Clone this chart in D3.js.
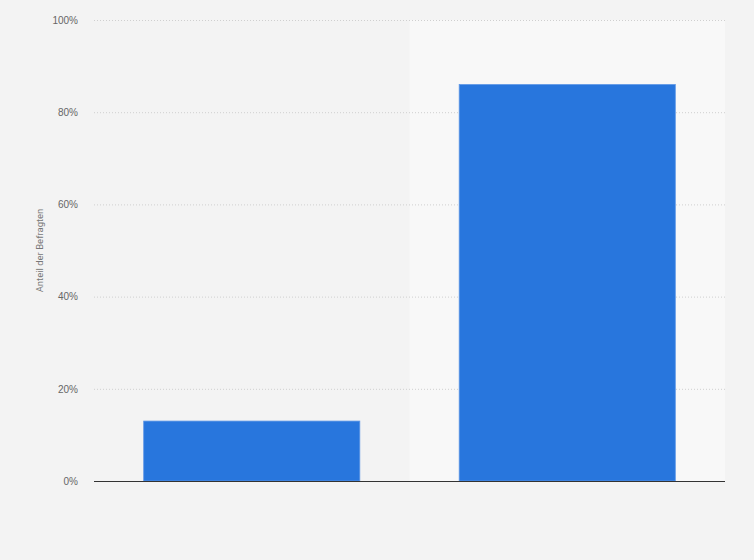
<!DOCTYPE html>
<html>
<head>
<meta charset="utf-8">
<script src="https://cdn.jsdelivr.net/npm/d3@7"></script>
<style>
  html, body { margin: 0; padding: 0; background: #f3f3f3; }
  svg { display: block; font-family: Roboto, "Noto Sans", Arial, sans-serif; }
</style>
</head>
<body>
<svg></svg>
<script>
const categories = ["Kategorie A", "Kategorie B"];
const values = [13, 86];
const yTicks = [0, 20, 40, 60, 80, 100];
const yTitle = "Anteil der Befragten";

const width = 754, height = 560, margin = { top: 20, right: 29, bottom: 79, left: 94 };

const svg = d3.select("svg")
  .attr("width", width)
  .attr("height", height);

svg.append("rect")
  .attr("width", width)
  .attr("height", height)
  .attr("fill", "#f3f3f3");

const xScale = d3.scaleBand()
  .domain(categories)
  .range([margin.left, width - margin.right])
  .paddingInner(0.315)
  .paddingOuter(0.1575);

// band layout without padding, for the alternating background
const bandScale = d3.scaleBand()
  .domain(categories)
  .range([margin.left, width - margin.right]);

const yScale = d3.scaleLinear()
  .domain([0, 100])
  .range([height - margin.bottom, margin.top]);

// lighter background on every second band
svg.selectAll(".band")
  .data(categories.filter((d, i) => i % 2 === 1))
  .enter()
  .append("rect")
  .attr("class", "band")
  .attr("x", d => bandScale(d))
  .attr("y", yScale(100))
  .attr("width", bandScale.bandwidth())
  .attr("height", yScale(0) - yScale(100))
  .attr("fill", "#f8f8f8");

// grid lines + y tick labels
const yAxis = d3.axisLeft(yScale)
  .tickValues(yTicks)
  .tickSize(-(width - margin.left - margin.right))
  .tickPadding(16)
  .tickFormat(d => d + "%");

const gy = svg.append("g")
  .attr("transform", `translate(${margin.left},0)`)
  .call(yAxis);

gy.select(".domain").remove();
gy.selectAll(".tick line")
  .attr("stroke", "#cfcfcf")
  .attr("stroke-width", 1)
  .attr("stroke-dasharray", "1,2");
gy.selectAll(".tick text")
  .attr("fill", "#666")
  .style("font-size", "10px");

// bars
svg.selectAll(".bar")
  .data(values)
  .enter()
  .append("rect")
  .attr("class", "bar")
  .attr("x", (d, i) => xScale(categories[i]))
  .attr("y", d => yScale(d))
  .attr("width", xScale.bandwidth())
  .attr("height", d => yScale(0) - yScale(d))
  .attr("fill", "#2876dd")
  .attr("stroke", "#5e97e6")
  .attr("stroke-width", 0.8);

// baseline
svg.append("line")
  .attr("x1", margin.left)
  .attr("x2", width - margin.right)
  .attr("y1", yScale(0) + 0.5)
  .attr("y2", yScale(0) + 0.5)
  .attr("stroke", "#333")
  .attr("stroke-width", 1.2);

// y title
svg.append("text")
  .attr("transform", `translate(43,${(yScale(0) + yScale(100)) / 2}) rotate(-90)`)
  .attr("text-anchor", "middle")
  .attr("fill", "#777")
  .style("font-size", "9.5px")
  .text(yTitle);
</script>
</body>
</html>
